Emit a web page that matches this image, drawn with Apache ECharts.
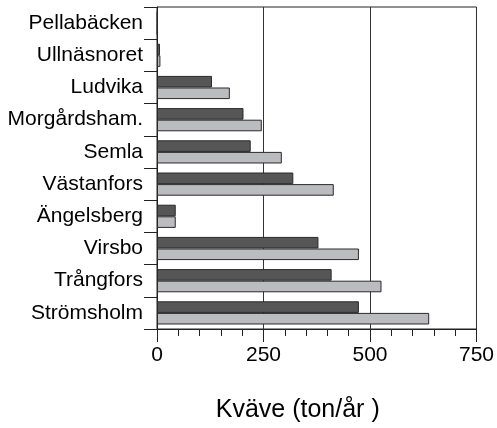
<!DOCTYPE html>
<html>
<head>
<meta charset="utf-8">
<script src="https://cdn.jsdelivr.net/npm/echarts@6/dist/echarts.min.js"></script>
<style>
  html, body { margin: 0; padding: 0; background: #fff; }
  #chart { width: 497px; height: 428px; }
</style>
</head>
<body>
<div id="chart"></div>
<script>
// Stations, listed top to bottom
const stations = ['Pellabäcken', 'Ullnäsnoret', 'Ludvika', 'Morgårdsham.', 'Semla',
  'Västanfors', 'Ängelsberg', 'Virsbo', 'Trångfors', 'Strömsholm'];
// Nitrogen load (ton/år), two series per station
const seriesA = [1, 7, 129, 203, 220, 320, 44, 379, 410, 474];
const seriesB = [1, 8, 171, 246, 293, 415, 44, 474, 527, 639];
const xTicks = [0, 250, 500, 750];

const font = 'Liberation Sans, Arial, sans-serif';
const chart = echarts.init(document.getElementById('chart'), null, { renderer: 'canvas' });

chart.setOption({
  animation: false,
  grid: {
    left: 157, right: 19, top: 7, bottom: 98,
    show: true, borderColor: '#222', borderWidth: 1, backgroundColor: 'transparent'
  },
  xAxis: {
    type: 'value',
    min: xTicks[0], max: xTicks[xTicks.length - 1], interval: 250,
    name: 'Kväve (ton/år )',
    nameLocation: 'middle',
    nameGap: 69,
    nameTextStyle: { fontFamily: font, fontSize: 25, color: '#000', padding: [0, 38, 0, 0] },
    axisLine: { show: true, lineStyle: { color: '#222', width: 1 } },
    axisTick: { show: true, length: 13, lineStyle: { color: '#222', width: 1 } },
    minorTick: { show: true, splitNumber: 5, length: 7, lineStyle: { color: '#222', width: 1 } },
    splitLine: { show: true, lineStyle: { color: '#333', width: 1 } },
    axisLabel: { fontFamily: font, fontSize: 21, color: '#000', margin: 16 }
  },
  yAxis: {
    type: 'category',
    data: stations,
    inverse: true,
    axisLine: { show: true, lineStyle: { color: '#222', width: 1 } },
    axisTick: { show: true, length: 13, alignWithLabel: false, lineStyle: { color: '#222', width: 1 } },
    axisLabel: { fontFamily: font, fontSize: 21, color: '#000', margin: 14 }
  },
  series: [
    {
      type: 'bar', data: seriesA, barGap: '0%', barCategoryGap: '28%',
      itemStyle: { color: '#565656', borderColor: '#2a2a2a', borderWidth: 1 }
    },
    {
      type: 'bar', data: seriesB, barGap: '0%', barCategoryGap: '28%',
      itemStyle: { color: '#bbbcc0', borderColor: '#2a2a2a', borderWidth: 1 }
    }
  ]
});
</script>
</body>
</html>
